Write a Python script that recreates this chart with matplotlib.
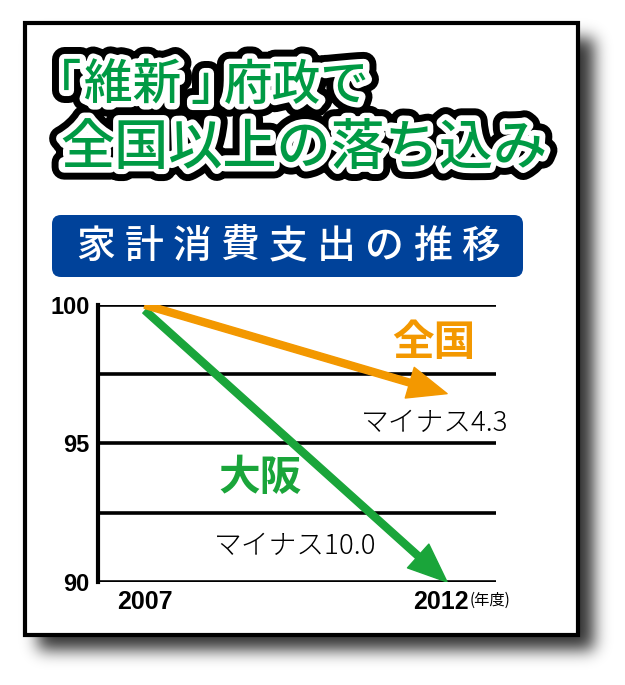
import numpy as np
import matplotlib
matplotlib.use("Agg")
import matplotlib.pyplot as plt
import matplotlib.patheffects as pe
import matplotlib.transforms as mtransforms
from matplotlib.patches import Rectangle, FancyBboxPatch, FancyArrowPatch, ArrowStyle

# データ
years = [2007, 2012]
national = [100.0, 96.8]   # 全国（矢印の先端）
osaka = [99.8, 90.0]       # 大阪
grid_levels = [90, 92.5, 95, 97.5, 100]
ytick_vals = [90, 95, 100]
ytick_labels = ["90", "95", "100"]
xtick_labels = ["2007", "2012"]

GREEN_T = "#009a44"
GREEN = "#1aa53a"
ORANGE = "#f39800"
BLUE = "#00429a"
JP = ["Noto Sans CJK JP", "DejaVu Sans"]
NUM = ["Liberation Sans", "DejaVu Sans"]

W, H = 625, 685
fig = plt.figure(figsize=(W / 100, H / 100), dpi=100)
fig.patch.set_facecolor("white")

# 背景（影・枠）
bg = fig.add_axes([0, 0, 1, 1])
bg.set_xlim(0, W)
bg.set_ylim(H, 0)
bg.axis("off")

# ぼかした影
mask = np.zeros((H, W))
mask[38:650, 38:594] = 1.0
k = np.exp(-0.5 * (np.arange(-24, 25) / 8.0) ** 2)
k /= k.sum()
mask = np.apply_along_axis(lambda r: np.convolve(r, k, mode="same"), 1, mask)
mask = np.apply_along_axis(lambda c: np.convolve(c, k, mode="same"), 0, mask)
rgba = np.zeros((H, W, 4))
rgba[..., 3] = mask * 0.8
bg.imshow(rgba, extent=(0, W, H, 0), zorder=0, interpolation="bilinear")

bg.add_patch(Rectangle((25, 23), 553, 612, facecolor="white", edgecolor="black", lw=3, zorder=1))


# タイトル（黒縁→白縁→緑の順に重ねる）
def outlined_text(pieces, y, size):
    for x, s, ha in pieces:
        bg.text(x, y, s, fontsize=size, family=JP, fontweight="medium", color="black",
                ha=ha, va="center", zorder=3,
                path_effects=[pe.Stroke(linewidth=18, foreground="black", joinstyle="round")])
    for x, s, ha in pieces:
        bg.text(x, y, s, fontsize=size, family=JP, fontweight="medium", color="white",
                ha=ha, va="center", zorder=4,
                path_effects=[pe.Stroke(linewidth=8, foreground="white", joinstyle="round")])
    for x, s, ha in pieces:
        bg.text(x, y, s, fontsize=size, family=JP, fontweight="medium", color=GREEN_T,
                ha=ha, va="center", zorder=5)


outlined_text([(69, "｢", "center"), (84, "維新", "left"), (203, "｣", "center"),
               (224, "府政で", "left")], 86, 35)
outlined_text([(60, "全国以上の落ち込み", "left")], 148, 39)

# 青い帯
bg.add_patch(FancyBboxPatch((52, 215), 471, 62, boxstyle="round,pad=0,rounding_size=9",
                            facecolor=BLUE, edgecolor="none", zorder=2))
banner = "家計消費支出の推移"
for i, ch in enumerate(banner):
    bg.text(96 + i * 48, 247, ch, fontsize=28, family=JP, fontweight="medium",
            color="white", ha="center", va="center", zorder=3)

# グラフ
ax = fig.add_axes([98 / W, 1 - 582 / H, 398 / W, 277 / H])
ax.patch.set_alpha(0)
ax.set_xlim(2006.22, 2012.81)
ax.set_ylim(90, 100)
for s in ["top", "right", "bottom"]:
    ax.spines[s].set_visible(False)
ax.spines["left"].set_linewidth(3)
ax.hlines(grid_levels, 2006.22, 2012.81, colors="black", lw=2.6, zorder=1)

ax.set_yticks(ytick_vals)
ax.set_yticklabels(ytick_labels, family=NUM, fontsize=17, fontweight="bold")
ax.set_xticks(years)
ax.set_xticklabels(xtick_labels, family=NUM, fontsize=18, fontweight="bold")
ax.tick_params(length=0, pad=6)
lab = ax.xaxis.get_major_ticks()[1].label1
lab.set_transform(lab.get_transform() + mtransforms.ScaledTranslation(-0.06, 0, fig.dpi_scale_trans))

ax.add_patch(FancyArrowPatch((years[0], osaka[0]), (years[1], osaka[1]),
                             arrowstyle=ArrowStyle.Simple(head_length=2.8, head_width=2.3, tail_width=0.5),
                             mutation_scale=10, color=GREEN, shrinkA=0, shrinkB=0, zorder=3))
ax.add_patch(FancyArrowPatch((years[0], national[0]), (years[1], national[1]),
                             arrowstyle=ArrowStyle.Simple(head_length=2.8, head_width=2.3, tail_width=0.5),
                             mutation_scale=10, color=ORANGE, shrinkA=0, shrinkB=0, zorder=4))

# 注記
bg.text(434, 343, "全国", fontsize=30, family=JP, fontweight="bold", color=ORANGE,
        ha="center", va="center", zorder=5)
bg.text(260, 478, "大阪", fontsize=30, family=JP, fontweight="bold", color=GREEN,
        ha="center", va="center", zorder=5)
bg.text(435, 423, "マイナス4.3", fontsize=20, family=JP, fontweight="light", color="black",
        ha="center", va="center", zorder=5)
bg.text(295, 546, "マイナス10.0", fontsize=20, family=JP, fontweight="light", color="black",
        ha="center", va="center", zorder=5)
bg.text(470, 600, "(年度)", fontsize=11, family=JP, color="black",
        ha="left", va="center", zorder=5)

fig.savefig("out.png", dpi=100)
